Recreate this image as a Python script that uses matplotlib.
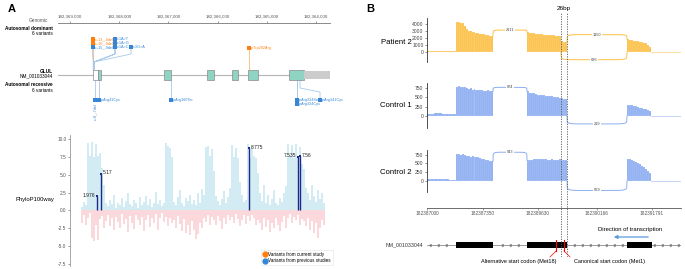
import numpy as np
import matplotlib
matplotlib.use("Agg")
import matplotlib.pyplot as plt
from matplotlib.lines import Line2D
from matplotlib.patches import Rectangle

plt.rcParams["font.family"] = ["Liberation Sans", "DejaVu Sans"]

W, H = 685, 269
fig = plt.figure(figsize=(W / 100, H / 100), dpi=100)


def box(x0, y0, x1, y1):
    # pixel box (top-left origin) -> figure fraction
    return [x0 / W, 1 - y1 / H, (x1 - x0) / W, (y1 - y0) / H]


def ftxt(x, y, s, **kw):
    fig.text(x / W, 1 - y / H, s, **kw)


ORANGE = "#ff7f0e"
BLUE = "#3586d6"

# ---------------- panel A data ----------------
genomic_ticks = [182369000, 182368000, 182367000, 182366000, 182365000, 182364000]
view_range = (182369244, 182363716)
utr5 = (182368533, 182368431)
cds_exons = [(182368431, 182368370), (182367089, 182366947), (182366215, 182366073),
             (182365707, 182365585), (182365382, 182365179), (182364549, 182364244)]
utr3 = (182364244, 182363716)

dom_labels = ["c.-13_-9del", "c.-10_-9del", "c.-15_-9del", "c.1A>T", "c.1A>G",
              "c.1A>C", "c.3G>A", "p.Trp292Arg"]
dom_colors = [ORANGE, ORANGE, BLUE, BLUE, BLUE, BLUE, BLUE, ORANGE]
dom_pos = [182368527, 182368525, 182368523, 182368512, 182368512, 182368511, 182368510, 182365372]
dom_label_x = [182368533] * 3 + [182368085] * 3 + [182367760, 182365372]
dom_row = [39, 43, 47, 39, 43, 47, 47, 48]

rec_labels = ["c.-8_-7del", "p.Arg41Cys", "p.Arg160Ter", "p.Arg324Ser", "p.Arg324Cys", "p.Arg341Cys"]
rec_pos = [182368492, 182368411, 182366947, 182364386, 182364386, 182364325]
rec_label_x = [182368492, 182368411, 182366947, 182364386, 182364386, 182363919]
rec_row = [100, 100, 100, 100, 104, 100]

phylo_pos = [0.5, 1.2, 0.8,
             9.5, 7.6, 9.6, 7.5, 9.3, 7.6, 8.0, 6.0, 3.5,
             1.0, 0.6, 1.4, 0.9, 2.1, 0.4, 1.1, 0.7, 1.8, 0.5, 1.3, 2.4, 0.9, 0.6, 1.5,
             1.0, 0.3, 1.9, 0.8, 1.2, 2.0, 0.7, 1.6, 0.5, 1.1, 2.6, 0.9, 1.4, 0.6, 1.0,
             9.5, 9.0, 8.8, 7.5,
             1.2, 0.8, 1.9, 2.8, 1.0, 0.6, 1.7, 1.3, 2.2, 0.9, 1.5, 0.7, 2.5, 1.1, 3.0, 2.2,
             8.9, 9.0, 7.6, 8.6, 5.5,
             2.0, 1.3, 0.8, 1.6, 2.7, 1.0, 1.9, 3.2,
             9.1, 7.5, 8.7, 7.4, 4.0,
             2.1, 1.2, 1.5,
             9.3, 7.4, 9.0, 7.6, 7.3, 5.2,
             2.4, 1.3, 3.5, 1.0, 2.2, 0.8, 1.6, 2.9, 1.1, 0.7, 1.8, 1.2, 2.5, 3.4,
             9.3, 7.6, 9.2, 7.4, 9.3, 7.5, 8.9, 6.5, 5.8,
             3.1, 2.4, 1.5, 3.6, 2.0, 1.2, 2.8, 1.6, 2.4, 1.1]
phylo_neg = [-1.8, -0.6, -2.1, -1.0, -0.4, -3.9, -4.3, -2.0, -4.1, -1.2, -0.8, -2.5,
             -1.5, -0.7, -2.2, -1.1, -2.8, -0.9, -1.6, -2.4, -0.5, -1.9, -1.2, -3.0, -0.8, -1.7,
             -2.6, -0.6, -1.4, -2.0, -0.9, -2.9, -1.3, -0.7, -2.3, -1.0, -1.8, -0.5, -2.7, -1.1,
             -0.4, -1.6,
             -0.9, -2.2, -1.0, -1.7,
             -1.3, -2.5, -0.8, -1.9, -2.9, -1.2, -3.1, -2.0, -3.5, -1.5, -2.7, -4.0, -3.3, -1.8,
             -2.4, -1.1,
             -1.6, -0.6, -2.0, -0.9, -1.4,
             -2.1, -0.8, -1.5, -2.6, -1.0, -1.9, -0.7, -1.3,
             -0.9, -1.8, -0.5, -1.2, -2.2,
             -1.4, -0.7, -1.9,
             -0.8, -1.5, -0.6, -1.1, -2.0, -1.3,
             -1.7, -2.8, -1.0, -2.3, -1.4, -3.0, -1.8, -2.5, -1.1, -2.1, -2.9, -1.6, -0.8, -2.4,
             -1.0, -0.5, -1.7, -0.9, -1.3, -0.6, -2.0, -1.2, -1.5,
             -2.2, -1.0, -2.7, -1.5, -3.1, -1.8, -3.8, -2.4, -1.3, -2.0]
hi_idx = [7.5, 9.5, 83.5, 108, 109]
hi_vals = [1.976, 5.17, 8.775, 7.535, 7.56]
hi_ha = ["right", "left", "left", "right", "left"]
phylo_ticks = [10.0, 7.5, 5.0, 2.5, 0.0, -2.5, -5.0, -7.5]

# ---------------- panel B data ----------------
b_ticks = [0, 56, 111, 170, 225]
b_tick_labels = ["182387000", "182387350", "182389630", "182390166", "182391791"]
blocks = [(0, 29), (29, 66), (100, 140), (200, 224)]
tail = (224, 254)
dashed_u = [134, 140]
samples = ["Patient 2", "Control 1", "Control 2"]
sample_colors = ["#fcc048", "#8daef2", "#8daef2"]
coverage = [
    [[120, 130, 140, 150, 150, 160, 170, 150],
     [4350, 4250, 4200, 4100, 3700, 3300, 2950, 3000, 2900, 2850, 2800, 2700, 2650, 2600,
      2550, 2450, 2400, 2350, 2300],
     [2850, 2800, 2750, 2700, 2650, 2600, 2600, 2550, 2500, 2500, 2450, 2450, 2400, 2400,
      2350, 2350, 2300, 1550, 1500, 1500],
     [1850, 1800, 1700, 1650, 1600, 1550, 1500, 1450, 1350, 1250, 1050, 700]],
    [[50, 60, 70, 70, 60, 60, 50, 40],
     [780, 790, 770, 760, 780, 740, 720, 730, 700, 710, 690, 700, 680, 690, 670, 660, 680,
      660, 650],
     [650, 620, 600, 600, 580, 570, 560, 560, 550, 540, 530, 540, 520, 510, 500, 510, 490,
      480, 460, 440],
     [300, 290, 280, 270, 255, 240, 225, 210, 195, 180, 160, 120]],
    [[50, 55, 60, 55, 50, 45, 40, 40],
     [760, 770, 750, 760, 740, 720, 700, 690, 710, 680, 690, 670, 650, 640, 620, 600, 590,
      580, 560],
     [590, 600, 610, 620, 615, 630, 620, 640, 630, 620, 610, 600, 620, 610, 590, 600, 620,
      610, 600, 610],
     [640, 620, 600, 570, 540, 510, 480, 430, 390, 340, 290, 240]],
]
# junctions: start, end, left height, right height, apex, read count
junctions = [
    [(66, 100, 2300, 2850, 3150, "2911"), (140, 200, 1500, 1850, 2500, "1150"),
     (134, 200, 0, 0, -1050, "626")],
    [(66, 100, 650, 650, 760, "874"), (140, 200, 0, 0, -210, "219")],
    [(66, 100, 560, 590, 820, "943"), (140, 200, 0, 0, -270, "669")],
]
track_ticks = [[0, 1000, 2000, 3000, 4000], [0, 250, 500, 750], [0, 250, 500, 750]]
track_ylim = [(-1370, 4850), (-318, 875), (-313, 883)]
track_box = [(18, 62), (83, 128), (150, 192)]
track_label_y = [43, 106, 172]
tx_exons = [(29, 66), (100, 140), (200, 225)]
start_codons = [129, 137]
start_labels = ["Alternative start codon (Met18)", "Canonical start codon (Met1)"]

# ================= panel A =================
ftxt(8, 9, "A", fontsize=8, fontweight="bold", va="center")

ax_gen = fig.add_axes(box(58, 22.5, 330, 23))
ax_gen.set_xlim(*view_range)
ax_gen.set_yticks([])
for s in ["left", "right", "bottom"]:
    ax_gen.spines[s].set_visible(False)
ax_gen.spines["top"].set_color("#777777")
ax_gen.spines["top"].set_linewidth(0.6)
ax_gen.xaxis.set_ticks_position("top")
ax_gen.set_xticks(genomic_ticks)
ax_gen.set_xticklabels([f"{t:,}" for t in genomic_ticks])
ax_gen.tick_params(axis="x", labelsize=3.2, length=1.5, width=0.4, pad=1, colors="#555555")
ax_gen.patch.set_visible(False)
ftxt(48, 20, "Genomic", fontsize=3.4, ha="right", va="center", color="#555555")

ax_a = fig.add_axes(box(58, 25, 330, 128))
ax_a.set_xlim(*view_range)
ax_a.set_ylim(128, 25)
ax_a.axis("off")

ax_a.plot(view_range, [75, 75], color="#b5b5b5", lw=0.8, zorder=1)
ax_a.add_patch(Rectangle((utr5[0], 70), utr5[1] - utr5[0], 10, facecolor="white",
                         edgecolor="#8a8a8a", lw=0.5, zorder=2))
for e0, e1 in cds_exons:
    ax_a.add_patch(Rectangle((e0, 70), e1 - e0, 10, facecolor="#8fd4c3",
                             edgecolor="#8a8a8a", lw=0.5, zorder=2))
ax_a.add_patch(Rectangle((utr3[0], 71), utr3[1] - utr3[0], 8, facecolor="#cccccc",
                         edgecolor="none", zorder=2))

for lab, col, p, lx, r in zip(dom_labels, dom_colors, dom_pos, dom_label_x, dom_row):
    lc = "#fbb67a" if col == ORANGE else "#a6c9ec"
    if lx == p:
        ax_a.plot([p, p], [70, r], color=lc, lw=0.6, zorder=1)
    else:
        ax_a.plot([p, p, lx, lx], [70, 62, 54, r], color=lc, lw=0.6, zorder=1)
    ax_a.scatter([lx], [r], s=5, marker="s", color=col, zorder=3, linewidths=0)
    ax_a.annotate(lab, (lx, r), xytext=(1.6, 0), textcoords="offset points",
                  fontsize=2.7, color=col, va="center", ha="left")

for i, (lab, p, lx, r) in enumerate(zip(rec_labels, rec_pos, rec_label_x, rec_row)):
    if lx == p:
        ax_a.plot([p, p], [80, r], color="#a6c9ec", lw=0.6, zorder=1)
    else:
        ax_a.plot([p, p, lx, lx], [80, 88, 92, r], color="#a6c9ec", lw=0.6, zorder=1)
    ax_a.scatter([lx], [r], s=5, marker="s", color=BLUE, zorder=3, linewidths=0)
    if i == 0:
        ax_a.annotate(lab, (lx, r), xytext=(0, -2), textcoords="offset points",
                      fontsize=2.7, color=BLUE, rotation=90, ha="center", va="top")
    else:
        ax_a.annotate(lab, (lx, r), xytext=(1.6, 0), textcoords="offset points",
                      fontsize=2.7, color=BLUE, va="center", ha="left",
                      annotation_clip=False)

ftxt(53, 28, "Autosomal dominant", fontsize=3.4, fontweight="bold", ha="right", va="center")
ftxt(53, 33, "6 variants", fontsize=3.4, ha="right", va="center")
ftxt(53, 71, "GLUL", fontsize=3.4, fontweight="bold", ha="right", va="center")
ftxt(53, 75.5, "NM_001033044", fontsize=3.4, ha="right", va="center")
ftxt(53, 85, "Autosomal recessive", fontsize=3.4, fontweight="bold", ha="right", va="center")
ftxt(53, 90, "6 variants", fontsize=3.4, ha="right", va="center")

# conservation track
ax_p = fig.add_axes(box(70, 135, 330, 266))
idx = np.arange(len(phylo_pos))
ax_p.bar(idx, phylo_pos, width=0.9, color="#9fd3e3", alpha=0.45, linewidth=0)
ax_p.bar(idx, phylo_neg, width=0.9, color="#f29aa3", alpha=0.38, linewidth=0)
ax_p.vlines(hi_idx, 0, hi_vals, color="#1c2a8c", lw=1.0, zorder=3)
ax_p.scatter(hi_idx, hi_vals, s=3, marker="s", color="#1c2a8c", zorder=4, linewidths=0)
for xi, v, ha in zip(hi_idx, hi_vals, hi_ha):
    ax_p.annotate(f"{v:g}", (xi, v), xytext=(-1.5 if ha == "right" else 1.5, 0.5),
                  textcoords="offset points", ha=ha, va="center", fontsize=3.6,
                  color="#222222")
ax_p.set_xlim(-6, 124)
ax_p.set_ylim(-7.78, 10.56)
ax_p.set_yticks(phylo_ticks)
ax_p.set_yticklabels([f"{t:.1f}" for t in phylo_ticks])
ax_p.tick_params(axis="y", labelsize=3.4, length=1.5, width=0.4, pad=1, colors="#555555")
ax_p.set_xticks([])
for s in ["top", "right", "bottom"]:
    ax_p.spines[s].set_visible(False)
ax_p.spines["left"].set_color("#999999")
ax_p.spines["left"].set_linewidth(0.6)
ax_p.patch.set_visible(False)
ftxt(35, 200, "PhyloP100way", fontsize=4.2, ha="center", va="center")

handles = [Line2D([], [], marker="o", ls="", color=ORANGE, markersize=3.5),
           Line2D([], [], marker="o", ls="", color=BLUE, markersize=3.5)]
leg = ax_p.legend(handles, ["Variants from current study", "Variants from previous studies"],
                  loc="lower right", bbox_to_anchor=(1.02, -0.01), fontsize=3.3,
                  frameon=True, handletextpad=0.3, borderpad=0.4, labelspacing=0.3,
                  handlelength=1.0, fancybox=False)
leg.get_frame().set_edgecolor("#dddddd")
leg.get_frame().set_linewidth(0.4)

# ================= panel B =================
ftxt(366, 9, "B", fontsize=8, fontweight="bold", va="center")


def arc(ax, u0, u1, y0, y1, peak, lab, color):
    t = np.linspace(0, 1, 200)
    g = (1 - np.abs(2 * t - 1) ** 8) ** (1 / 8)
    base = y0 + (y1 - y0) * t
    ax.plot(u0 + (u1 - u0) * t, base + (peak - base) * g, color=color, lw=0.7, zorder=3)
    ax.text((u0 + u1) / 2, peak, lab, fontsize=2.8, ha="center", va="center", zorder=4,
            color="#444444",
            bbox=dict(facecolor="white", edgecolor="none", pad=0.4))


for k in range(3):
    ax = fig.add_axes(box(427, track_box[k][0], 681, track_box[k][1]))
    col = sample_colors[k]
    for (b0, b1), vals in zip(blocks, coverage[k]):
        n = len(vals)
        xs = np.linspace(b0, b1, n + 1)[:-1]
        ax.bar(xs, vals, width=(b1 - b0) / n, align="edge", color=col,
               edgecolor="white", linewidth=0.1)
    ax.plot(tail, [0, 0], color=col, lw=0.6, alpha=0.6)
    for j in junctions[k]:
        arc(ax, *j, col)
    ax.set_xlim(0, 254)
    ax.set_ylim(*track_ylim[k])
    ax.set_yticks(track_ticks[k])
    ax.tick_params(axis="y", labelsize=3.6, length=1.5, width=0.4, pad=1, colors="#444444")
    ax.set_xticks([])
    for s in ["top", "right", "bottom"]:
        ax.spines[s].set_visible(False)
    ax.spines["left"].set_color("#333333")
    ax.spines["left"].set_linewidth(0.6)
    ax.patch.set_visible(False)
    ftxt(412, track_label_y[k], samples[k], fontsize=5.6, ha="right", va="center")

ax_x = fig.add_axes(box(427, 207.5, 681, 208))
ax_x.set_xlim(0, 254)
ax_x.set_yticks([])
for s in ["top", "right", "left"]:
    ax_x.spines[s].set_visible(False)
ax_x.spines["bottom"].set_color("#555555")
ax_x.spines["bottom"].set_linewidth(0.6)
ax_x.set_xticks(b_ticks)
ax_x.set_xticklabels(b_tick_labels)
ax_x.tick_params(axis="x", labelsize=3.4, length=1.5, width=0.4, pad=1, colors="#555555")
ax_x.patch.set_visible(False)

# gene model
ax_g = fig.add_axes(box(427, 222, 681, 269))
ax_g.set_xlim(0, 254)
ax_g.set_ylim(269, 222)
ax_g.axis("off")
ax_g.plot([0, 254], [245, 245], color="#777777", lw=0.5, zorder=1)
intron_marks = [u for u in range(4, 254, 8)
                if not any(e0 - 2 <= u <= e1 + 2 for e0, e1 in tx_exons)]
ax_g.plot(intron_marks, [245] * len(intron_marks), ls="", marker=8, markersize=1.5,
          color="#777777")
for e0, e1 in tx_exons:
    ax_g.add_patch(Rectangle((e0, 242), e1 - e0, 6, facecolor="black", edgecolor="none",
                             zorder=2))
ax_g.plot([start_codons[0]] * 2, [239.5, 251], color="red", lw=0.8, zorder=3)
ax_g.plot([start_codons[1]] * 2, [239.5, 251], color="red", lw=0.8, zorder=3)
ax_g.plot([start_codons[0], start_codons[0] - 6], [251, 257], color="red", lw=0.5)
ax_g.plot([start_codons[1], start_codons[1] + 6], [251, 257], color="red", lw=0.5)
ax_g.text(start_codons[0] - 37, 262, start_labels[0], fontsize=4.0, ha="center", va="center")
ax_g.text(start_codons[1] + 45, 262, start_labels[1], fontsize=4.0, ha="center", va="center")
ax_g.text(203, 230, "Direction of transcription", fontsize=4.2, ha="center", va="center")
ax_g.annotate("", xy=(184, 237), xytext=(224, 237),
              arrowprops=dict(arrowstyle="-|>", color="#5a9bdc", lw=0.9,
                              mutation_scale=5))
ftxt(423, 245, "NM_001033044", fontsize=3.8, ha="right", va="center", color="#333333")

# dashed guides
ax_ov = fig.add_axes(box(427, 12, 681, 257))
ax_ov.set_xlim(0, 254)
ax_ov.set_ylim(0, 1)
ax_ov.axis("off")
for u in dashed_u:
    ax_ov.axvline(u, color="#555555", lw=0.6, ls=(0, (1.5, 1.5)), zorder=5)
ax_ov.text(sum(dashed_u) / 2, 1.005, "26bp", fontsize=4.6, ha="center", va="bottom")

fig.savefig("out.png", dpi=100)
